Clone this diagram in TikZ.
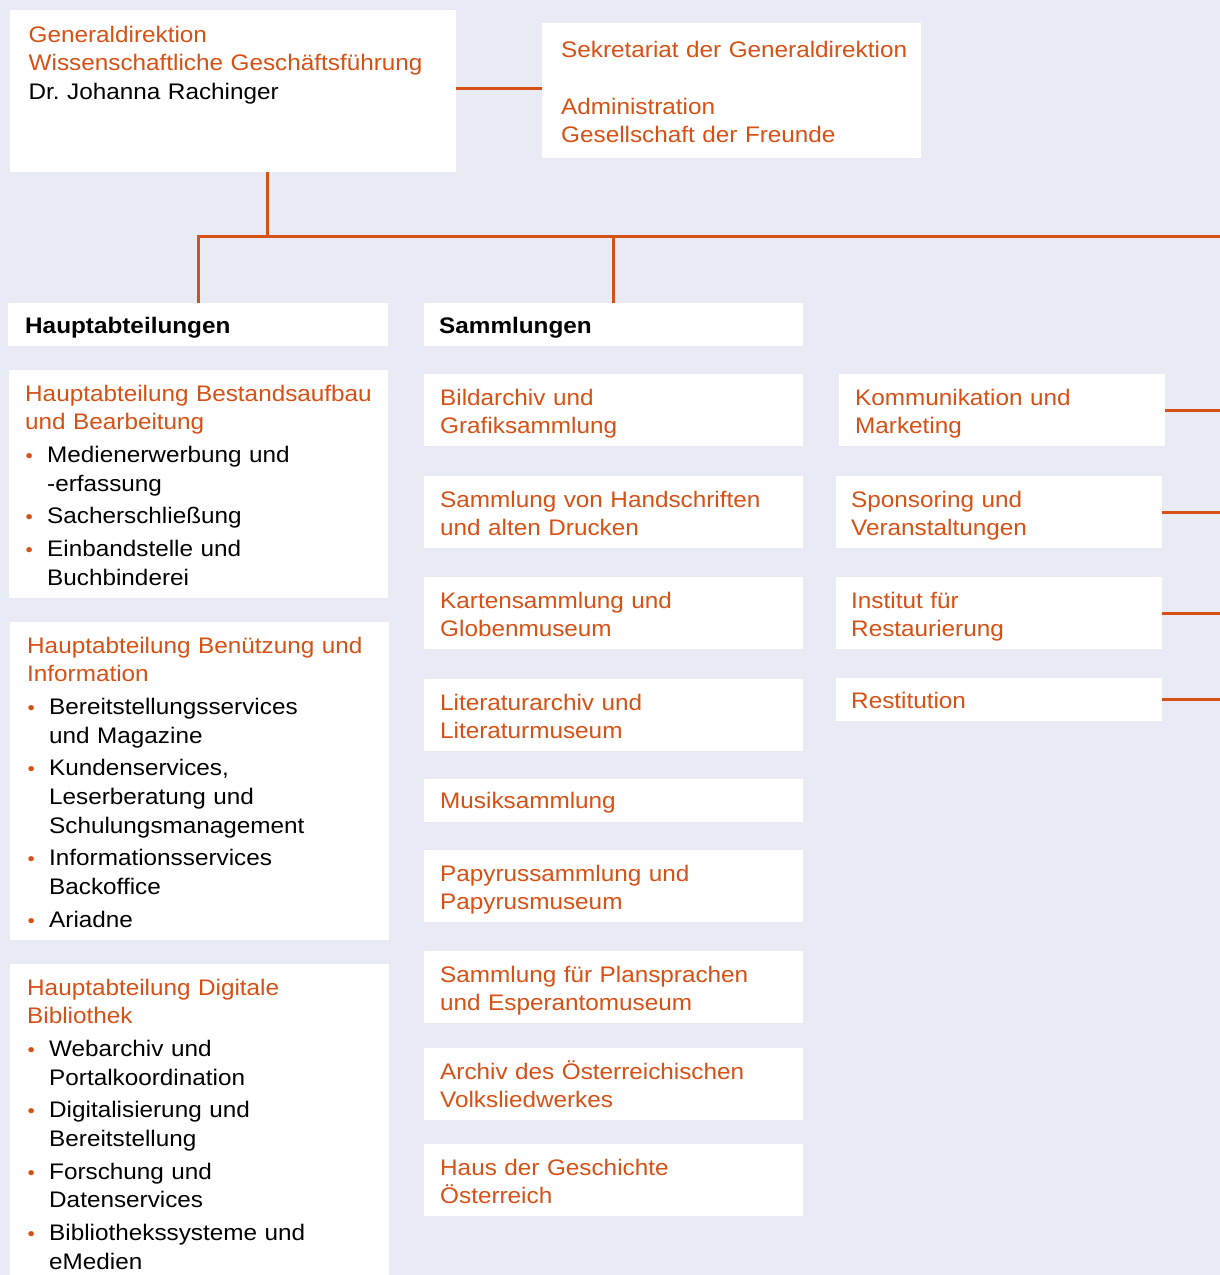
\documentclass[tikz,border=0pt]{standalone}
\usepackage{fontspec}
\setmainfont[FakeStretch=1.08]{Liberation Sans}
\frenchspacing
\definecolor{orC}{RGB}{215,80,20}
\definecolor{bgC}{RGB}{232,235,243}
\tikzset{
  box/.style={fill=white, draw=none, inner sep=0pt, anchor=north west, rectangle},
  txt/.style={anchor=base west, inner sep=0pt, align=left, text width=420pt, text=orC,
    font=\fontsize{22.5}{28.7}\selectfont},
  hdr/.style={txt, text=black, font=\fontsize{22.5}{28.7}\selectfont\bfseries},
  conn/.style={draw=orC, line width=3pt},
}
\newcommand\bul{\makebox[22pt][l]{\hspace{0.5pt}\textcolor{orC}{\scalebox{0.85}{•}}}}
\newcommand\ind{\hspace*{22pt}}
\begin{document}
\begin{tikzpicture}[x=1pt,y=-1pt]
\useasboundingbox (0,0) rectangle (1220,1275);
\fill[bgC] (0,0) rectangle (1220,1275);

% top boxes
\node[box, minimum width=446pt, minimum height=162pt] (gd) at (10,10) {};
\node[txt] (gdt) at ([shift={(18.5,32)}]gd.north west)
  {Generaldirektion\\Wissenschaftliche Geschäftsführung\\\color{black}Dr.\ Johanna Rachinger};
\node[box, minimum width=379pt, minimum height=135pt] (sek) at (542,23) {};
\node[txt] (sekt) at ([shift={(19,34)}]sek.north west)
  {Sekretariat der Generaldirektion\\[28.5pt]Administration\\Gesellschaft der Freunde};

% headers
\node[box, minimum width=380pt, minimum height=43pt] (ha) at (8,303) {};
\node[hdr] (hat) at ([shift={(17,30)}]ha.north west) {Hauptabteilungen};
\node[box, minimum width=379pt, minimum height=43pt] (sam) at (424,303) {};
\node[hdr] (samt) at ([shift={(15,30)}]sam.north west) {Sammlungen};

% left column
\node[box, minimum width=379pt, minimum height=228pt] (ha1) at (9,370) {};
\node[txt, text=black] (ha1t) at ([shift={(16,31)}]ha1.north west)
  {\color{orC}Hauptabteilung Bestandsaufbau\\und Bearbeitung\\[4pt]\color{black}%
   \bul Medienerwerbung und\\\ind -erfassung\\[4pt]%
   \bul Sacherschließung\\[4pt]%
   \bul Einbandstelle und\\\ind Buchbinderei};
\node[box, minimum width=379pt, minimum height=318pt] (ha2) at (10,622) {};
\node[txt, text=black] (ha2t) at ([shift={(17,31)}]ha2.north west)
  {\color{orC}Hauptabteilung Benützung und\\Information\\[4pt]\color{black}%
   \bul Bereitstellungsservices\\\ind und Magazine\\[4pt]%
   \bul Kundenservices,\\\ind Leserberatung und\\\ind Schulungsmanagement\\[4pt]%
   \bul Informationsservices\\\ind Backoffice\\[4pt]%
   \bul Ariadne};
\node[box, minimum width=379pt, minimum height=311pt] (ha3) at (10,964) {};
\node[txt, text=black] (ha3t) at ([shift={(17,31)}]ha3.north west)
  {\color{orC}Hauptabteilung Digitale\\Bibliothek\\[4pt]\color{black}%
   \bul Webarchiv und\\\ind Portalkoordination\\[4pt]%
   \bul Digitalisierung und\\\ind Bereitstellung\\[4pt]%
   \bul Forschung und\\\ind Datenservices\\[4pt]%
   \bul Bibliothekssysteme und\\\ind eMedien};

% middle column
\node[box, minimum width=379pt, minimum height=72pt] (s1) at (424,374) {};
\node[txt] (s1t) at ([shift={(16,31)}]s1.north west) {Bildarchiv und\\Grafiksammlung};
\node[box, minimum width=379pt, minimum height=72pt] (s2) at (424,476) {};
\node[txt] (s2t) at ([shift={(16,31)}]s2.north west) {Sammlung von Handschriften\\und alten Drucken};
\node[box, minimum width=379pt, minimum height=72pt] (s3) at (424,577) {};
\node[txt] (s3t) at ([shift={(16,31)}]s3.north west) {Kartensammlung und\\Globenmuseum};
\node[box, minimum width=379pt, minimum height=72pt] (s4) at (424,679) {};
\node[txt] (s4t) at ([shift={(16,31)}]s4.north west) {Literaturarchiv und\\Literaturmuseum};
\node[box, minimum width=379pt, minimum height=43pt] (s5) at (424,779) {};
\node[txt] (s5t) at ([shift={(16,29)}]s5.north west) {Musiksammlung};
\node[box, minimum width=379pt, minimum height=72pt] (s6) at (424,850) {};
\node[txt] (s6t) at ([shift={(16,31)}]s6.north west) {Papyrussammlung und\\Papyrusmuseum};
\node[box, minimum width=379pt, minimum height=72pt] (s7) at (424,951) {};
\node[txt] (s7t) at ([shift={(16,31)}]s7.north west) {Sammlung für Plansprachen\\und Esperantomuseum};
\node[box, minimum width=379pt, minimum height=72pt] (s8) at (424,1048) {};
\node[txt] (s8t) at ([shift={(16,31)}]s8.north west) {Archiv des Österreichischen\\Volksliedwerkes};
\node[box, minimum width=379pt, minimum height=72pt] (s9) at (424,1144) {};
\node[txt] (s9t) at ([shift={(16,31)}]s9.north west) {Haus der Geschichte\\Österreich};

% right column
\node[box, minimum width=326pt, minimum height=72pt] (kom) at (839,374) {};
\node[txt] (komt) at ([shift={(16,31)}]kom.north west) {Kommunikation und\\Marketing};
\node[box, minimum width=326pt, minimum height=72pt] (spo) at (836,476) {};
\node[txt] (spot) at ([shift={(15,31)}]spo.north west) {Sponsoring und\\Veranstaltungen};
\node[box, minimum width=326pt, minimum height=72pt] (ins) at (836,577) {};
\node[txt] (inst) at ([shift={(15,31)}]ins.north west) {Institut für\\Restaurierung};
\node[box, minimum width=326pt, minimum height=43pt] (res) at (836,678) {};
\node[txt] (rest) at ([shift={(15,30)}]res.north west) {Restitution};

% connectors
\coordinate (j1) at (267,236);
\coordinate (busR) at (1220,236);
\coordinate (edge) at (1220,0);
\draw[conn] ([yshift=3pt]gd.east) -- ([yshift=3pt]gd.east -| sek.west);
\draw[conn] (gd.south -| j1) -- (j1);
\draw[conn] (ha.north) |- (busR);
\draw[conn] (sam.north) -- (sam.north |- busR);
\draw[conn] (kom.east) -- (kom.east -| edge);
\draw[conn] (spo.east) -- (spo.east -| edge);
\draw[conn] (ins.east) -- (ins.east -| edge);
\draw[conn] (res.east) -- (res.east -| edge);
\end{tikzpicture}
\end{document}
